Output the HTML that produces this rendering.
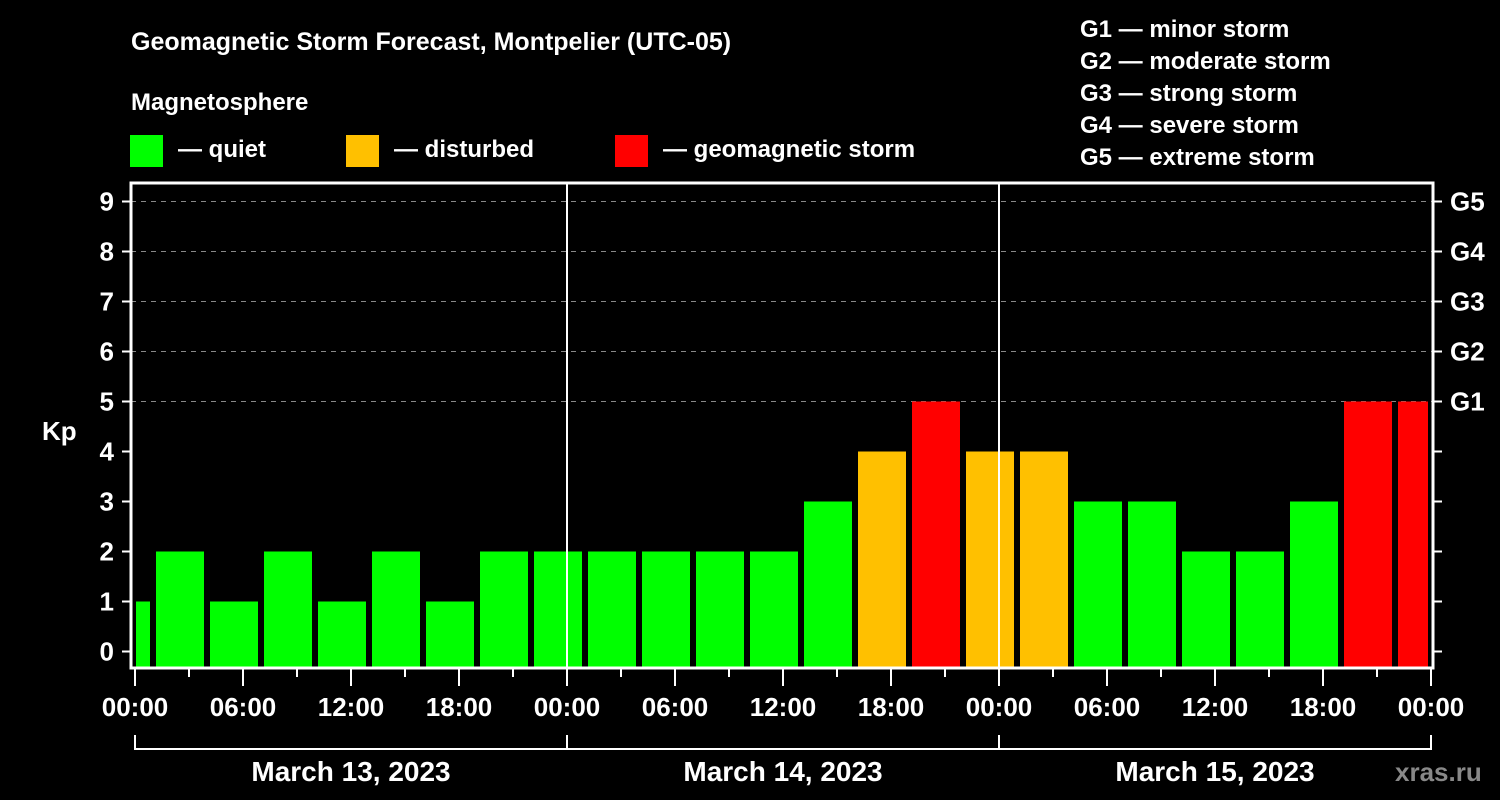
<!DOCTYPE html>
<html><head><meta charset="utf-8"><style>
html,body{margin:0;padding:0;background:#000;}
svg{display:block;font-family:"Liberation Sans",Arial,sans-serif;font-weight:bold;}
</style></head><body>
<svg id="chart" width="1500" height="800" viewBox="0 0 1500 800" xmlns="http://www.w3.org/2000/svg">
<rect width="1500" height="800" fill="#000"/>
<text x="131" y="50" fill="#fff" font-size="25">Geomagnetic Storm Forecast, Montpelier (UTC-05)</text>
<text x="131" y="110" fill="#fff" font-size="24">Magnetosphere</text>
<g><rect x="130" y="135" width="33" height="32" fill="#00ff00"/><text x="178" y="157" fill="#fff" font-size="24">— quiet</text></g>
<g><rect x="346" y="135" width="33" height="32" fill="#ffc000"/><text x="394" y="157" fill="#fff" font-size="24">— disturbed</text></g>
<g><rect x="615" y="135" width="33" height="32" fill="#ff0000"/><text x="663" y="157" fill="#fff" font-size="24">— geomagnetic storm</text></g>
<g fill="#fff" font-size="24">
<text x="1080" y="37">G1 — minor storm</text>
<text x="1080" y="69">G2 — moderate storm</text>
<text x="1080" y="101">G3 — strong storm</text>
<text x="1080" y="133">G4 — severe storm</text>
<text x="1080" y="165">G5 — extreme storm</text>
</g>
<text x="42" y="440" fill="#fff" font-size="26">Kp</text>
<g id="grid"></g><g id="bars"></g><g id="axes"></g>
<text x="1395" y="781" fill="#888" font-size="26">xras.ru</text>
</svg>
<script>
const kpValues=[1,2,1,2,1,2,1,2,2,2,2,2,2,3,4,5,4,4,3,3,2,2,3,5,5];
const hourLabels=["00:00","06:00","12:00","18:00","00:00","06:00","12:00","18:00","00:00","06:00","12:00","18:00","00:00"];
const dayLabels=["March 13, 2023","March 14, 2023","March 15, 2023"];
const gLabels=["G1","G2","G3","G4","G5"];
const firstBarStartHour=-2;
const NS="http://www.w3.org/2000/svg";
const X0=135,PXH=18,Y0=651.5,PXK=50,TOP=183,BOT=668,LEFT=131,RIGHT=1433,HMAX=72;
const xs=h=>X0+h*PXH, ys=k=>Y0-k*PXK;
function mk(t,a,p){const e=document.createElementNS(NS,t);for(const k in a)e.setAttribute(k,a[k]);(p||document.getElementById('chart')).appendChild(e);return e;}
const grid=document.getElementById('grid'),bars=document.getElementById('bars'),axes=document.getElementById('axes');
for(let k=5;k<=9;k++){const l=mk('line',{x1:LEFT,x2:RIGHT,y1:ys(k),y2:ys(k),stroke:'#888','stroke-dasharray':'5,5','stroke-width':1},grid);

}
kpValues.forEach((v,i)=>{const h0=firstBarStartHour+3*i;let x1=xs(h0)+3,x2=xs(h0+3)-3;x1=Math.max(x1,X0+1);x2=Math.min(x2,xs(HMAX)-3);
const c=v>=5?'#ff0000':(v>=4?'#ffc000':'#00ff00');
const r=mk('rect',{x:x1,y:ys(v),width:x2-x1,height:BOT-ys(v),fill:c},bars);

});
for(let d=1;d<3;d++){const l=mk('line',{x1:xs(24*d),x2:xs(24*d),y1:TOP,y2:BOT,stroke:'#fff','stroke-width':2},axes);

}
const fr=mk('rect',{x:LEFT,y:TOP,width:RIGHT-LEFT,height:BOT-TOP,fill:'none',stroke:'#fff','stroke-width':3},axes);


for(let k=0;k<=9;k++){mk('line',{x1:122,x2:LEFT,y1:ys(k),y2:ys(k),stroke:'#fff','stroke-width':2},axes);
mk('line',{x1:RIGHT,x2:1442,y1:ys(k),y2:ys(k),stroke:'#fff','stroke-width':2},axes);
const t=mk('text',{x:114,y:ys(k)+9,fill:'#fff','font-size':26,'text-anchor':'end'},axes);t.textContent=k;

}
gLabels.forEach((g,i)=>{const t=mk('text',{x:1450,y:ys(5+i)+9,fill:'#fff','font-size':26},axes);t.textContent=g;

});
for(let h=0;h<=HMAX;h+=3){const major=h%6===0;mk('line',{x1:xs(h),x2:xs(h),y1:BOT,y2:major?686:677,stroke:'#fff','stroke-width':2},axes);}
hourLabels.forEach((s,i)=>{const t=mk('text',{x:xs(i*6),y:716,fill:'#fff','font-size':26,'text-anchor':'middle'},axes);t.textContent=s;

});
mk('line',{x1:xs(0),x2:xs(HMAX),y1:749,y2:749,stroke:'#fff','stroke-width':2},axes);
for(let d=0;d<=3;d++)mk('line',{x1:xs(24*d),x2:xs(24*d),y1:735,y2:750,stroke:'#fff','stroke-width':2},axes);
dayLabels.forEach((s,i)=>{const t=mk('text',{x:xs(24*i+12),y:781,fill:'#fff','font-size':28,'text-anchor':'middle'},axes);t.textContent=s;

});
</script>
</body></html>
